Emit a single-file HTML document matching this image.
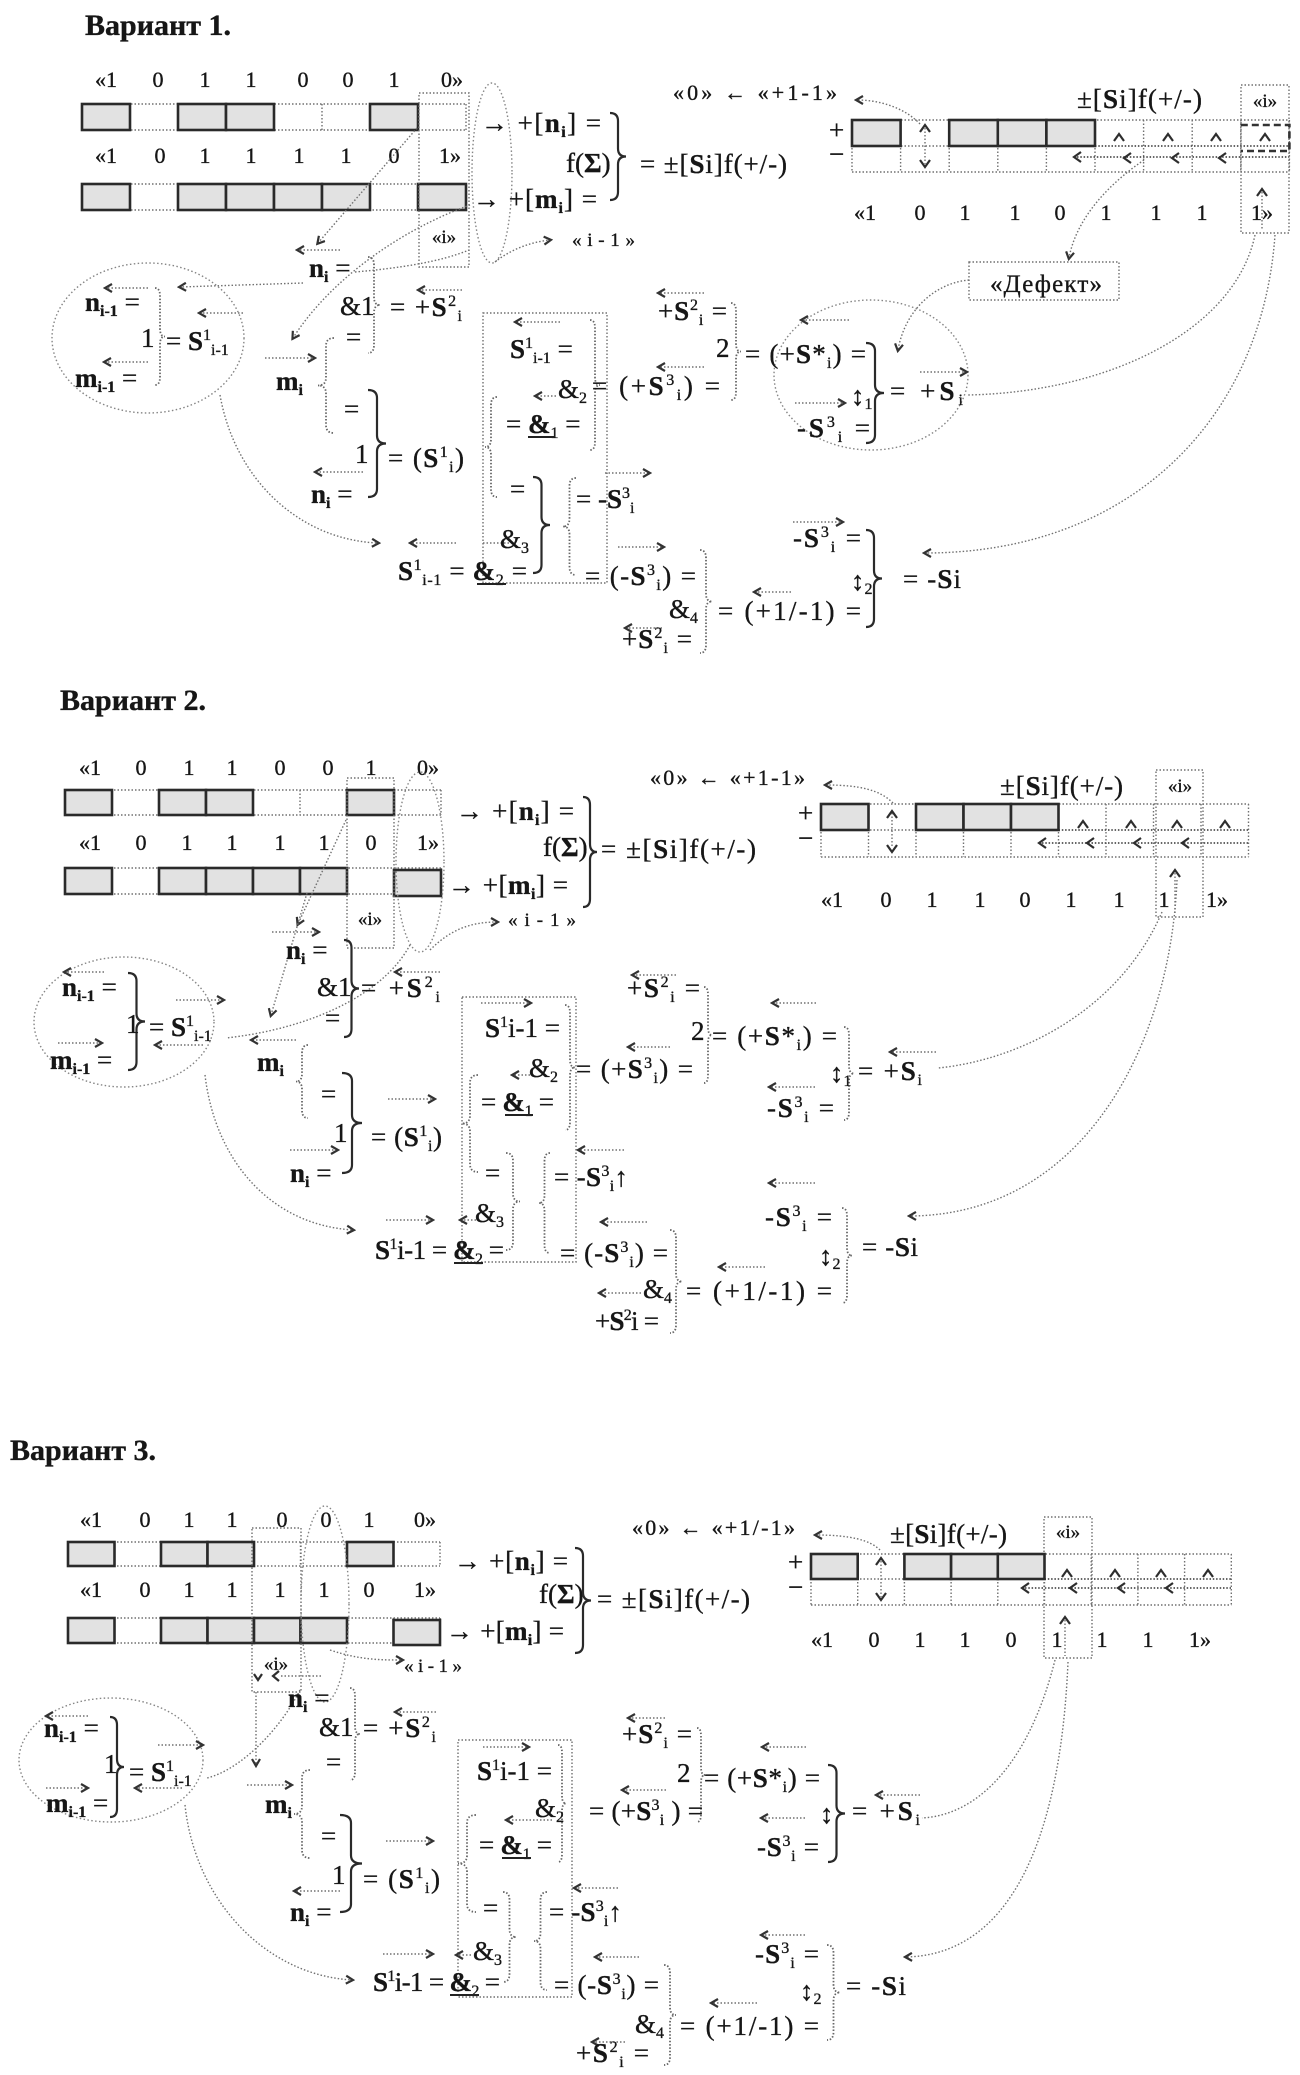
<!DOCTYPE html>
<html><head><meta charset="utf-8">
<style>
html,body{margin:0;padding:0;background:#fff;}
svg{display:block;}
text{font-family:"Liberation Serif","DejaVu Serif",serif;fill:#161616;stroke:#161616;stroke-width:0.35;}
.f{font-size:27px;}
.g{font-size:22px;}
.k{font-size:19px;}
.h{font-size:30px;font-weight:bold;}
.dk{font-size:25px;}
.b{font-weight:bold;}
.s{font-size:16px;}
.d{fill:none;stroke:#707070;stroke-width:1.4;stroke-dasharray:1.5 2;}
.dd{fill:none;stroke:#505050;stroke-width:1.8;stroke-dasharray:1.5 1.8;}
.el{fill:none;stroke:#858585;stroke-width:1.4;stroke-dasharray:1.5 2.4;}
.br{fill:none;stroke:#2a2a2a;stroke-width:2.2;}
.bd{fill:none;stroke:#666;stroke-width:1.8;stroke-dasharray:1.5 1.8;}
.bx{fill:#e2e2e2;stroke:#2a2a2a;stroke-width:2.6;}
.ch{fill:none;stroke:#2e2e2e;stroke-width:2.2;}
.ul{stroke:#222;stroke-width:2;}
</style></head>
<body>
<svg width="1300" height="2075" viewBox="0 0 1300 2075" xmlns="http://www.w3.org/2000/svg">
<defs>
<marker id="a" viewBox="0 0 10 10" refX="7" refY="5" markerWidth="10" markerHeight="10" orient="auto" markerUnits="userSpaceOnUse"><path d="M1,1 L8,5 L1,9" fill="none" stroke="#333" stroke-width="2.2"/></marker>
</defs>
<rect width="1300" height="2075" fill="#fff"/>

<!-- ================= VARIANT 1 ================= -->
<text x="85" y="35" class="h">Вариант 1.</text>

<text class="g" y="87" text-anchor="middle"><tspan x="106">«1</tspan><tspan x="158">0</tspan><tspan x="205">1</tspan><tspan x="251">1</tspan><tspan x="303">0</tspan><tspan x="348">0</tspan><tspan x="394">1</tspan><tspan x="452">0»</tspan></text>
<text class="g" y="163" text-anchor="middle"><tspan x="106">«1</tspan><tspan x="160">0</tspan><tspan x="205">1</tspan><tspan x="251">1</tspan><tspan x="299">1</tspan><tspan x="346">1</tspan><tspan x="394">0</tspan><tspan x="450">1»</tspan></text>

<path class="d" d="M82 104H466M82 130H466M82 184H466M82 210H466M82 104V130M130 104V130M178 104V130M226 104V130M274 104V130M322 104V130M370 104V130M418 104V130M466 104V130M82 184V210M130 184V210M178 184V210M226 184V210M274 184V210M322 184V210M370 184V210M418 184V210M466 184V210"/>
<rect class="bx" x="82" y="104" width="48" height="26"/>
<rect class="bx" x="178" y="104" width="48" height="26"/>
<rect class="bx" x="226" y="104" width="48" height="26"/>
<rect class="bx" x="370" y="104" width="48" height="26"/>
<rect class="bx" x="82" y="184" width="48" height="26"/>
<rect class="bx" x="178" y="184" width="48" height="26"/>
<rect class="bx" x="226" y="184" width="48" height="26"/>
<rect class="bx" x="274" y="184" width="48" height="26"/>
<rect class="bx" x="322" y="184" width="48" height="26"/>
<rect class="bx" x="418" y="184" width="48" height="26"/>

<rect class="d" x="419" y="93" width="50" height="174"/>
<text x="444" y="243" class="k" text-anchor="middle">«i»</text>
<ellipse class="el" cx="492" cy="173" rx="20" ry="90"/>

<text x="481" y="132" class="f" textLength="120">→ +[<tspan class="b">n</tspan><tspan class="s b" dy="5">i</tspan><tspan dy="-5">] =</tspan></text>
<text x="566" y="172" class="f">f(<tspan class="b">Σ</tspan>)</text>
<text x="473" y="208" class="f" textLength="124">→ +[<tspan class="b">m</tspan><tspan class="s b" dy="5">i</tspan><tspan dy="-5">] =</tspan></text>
<path class="br" d="M610 113 Q618 113 618 121 L618 148.5 Q618 156.5 626 156.5 Q618 156.5 618 164.5 L618 192 Q618 200 610 200"/>
<text x="640" y="173" class="f" textLength="147">= ±[<tspan class="b">S</tspan>i]f(+/-)</text>
<path class="d" d="M495 262 C510 250 530 242 550 240" marker-end="url(#a)"/>
<text x="572" y="246" class="k" textLength="63">«i-1»</text>

<text x="673" y="100" class="g" textLength="164">«0» ← «+1-1»</text>
<path class="d" d="M920 124 C905 108 880 100 857 100" marker-end="url(#a)"/>
<text x="1077" y="108" class="f" textLength="125">±[<tspan class="b">S</tspan>i]f(+/-)</text>
<rect class="d" x="1241" y="85" width="48" height="148"/>
<text x="1265" y="107" class="k" text-anchor="middle">«i»</text>
<text x="829" y="139" class="f">+</text>
<text x="829" y="163" class="f">−</text>
<path class="d" d="M852 120H1289.4M852 172H1289.4M852 146H1095M852 120V172M900.6 120V172M949.2 120V172M997.8 120V172M1046.4 120V172M1095 120V172M1143.6 120V172M1192.2 120V172M1240.8 120V172M1289.4 120V172"/>
<path class="dd" d="M1095 146H1289.4M1077 157H1289"/>
<rect class="bx" x="852" y="120" width="48.6" height="26"/>
<rect class="bx" x="949.2" y="120" width="48.6" height="26"/>
<rect class="bx" x="997.8" y="120" width="48.6" height="26"/>
<rect class="bx" x="1046.4" y="120" width="48.6" height="26"/>
<path d="M1240.8 125H1289.4V151H1240.8" fill="none" stroke="#333" stroke-width="2.6" stroke-dasharray="7 4"/>
<path class="d" d="M925 128V164M1262 192V230"/>
<path class="ch" d="M920 132L925 125L930 132M920 160L925 167L930 160M1114 141L1119 134L1124 141M1163 141L1168 134L1173 141M1211 141L1216 134L1221 141M1260 141L1265 134L1270 141M1257 196L1262 189L1267 196M1081 152L1074 157L1081 162M1131 153L1124 158L1131 163M1179 153L1172 158L1179 163M1226 153L1219 158L1226 163"/>
<text class="g" y="220" text-anchor="middle"><tspan x="865">«1</tspan><tspan x="920">0</tspan><tspan x="965">1</tspan><tspan x="1015">1</tspan><tspan x="1060">0</tspan><tspan x="1106">1</tspan><tspan x="1156">1</tspan><tspan x="1202">1</tspan><tspan x="1262">1»</tspan></text>

<path class="d" d="M1144 160 C1100 190 1075 225 1069 258" marker-end="url(#a)"/>
<rect class="d" x="969" y="262" width="150" height="38"/>
<text x="990" y="292" class="dk" textLength="112">«Дефект»</text>
<path class="d" d="M969 280 C935 283 905 310 898 350" marker-end="url(#a)"/>

<!-- V1 connectors -->
<path class="d" d="M417 128 L318 243" marker-end="url(#a)"/>
<path class="d" d="M340 250 L298 250" marker-end="url(#a)"/>
<path class="d" d="M470 205 C400 230 330 280 293 338" marker-end="url(#a)"/>
<path class="d" d="M303 283 L180 287" marker-end="url(#a)"/>
<path class="d" d="M355 272 C400 268 440 262 469 250"/>
<ellipse class="el" cx="148" cy="338" rx="96" ry="75"/>
<path class="d" d="M220 395 C235 480 300 540 378 543" marker-end="url(#a)"/>
<path class="d" d="M1255 235 C1235 330 1110 392 968 395"/>
<path class="d" d="M1275 235 C1262 420 1130 553 925 553" marker-end="url(#a)"/>
<ellipse class="el" cx="871" cy="375" rx="97" ry="75"/>
<rect class="d" x="483" y="313" width="124" height="270"/>

<path class="d" marker-end="url(#a)" d="M148 288 L106 288"/>
<path class="d" marker-end="url(#a)" d="M243 313 L200 313"/>
<path class="d" marker-end="url(#a)" d="M148 362 L105 362"/>
<path class="d" marker-end="url(#a)" d="M265 358 L314 358"/>
<path class="d" marker-end="url(#a)" d="M462 290 L419 290"/>
<path class="d" marker-end="url(#a)" d="M363 472 L316 472"/>
<path class="d" marker-end="url(#a)" d="M560 322 L516 322"/>
<path class="d" marker-end="url(#a)" d="M556 396 L536 396"/>
<path class="d" d="M483 543 L510 543"/>
<path class="d" marker-end="url(#a)" d="M456 543 L411 543"/>
<path class="d" marker-end="url(#a)" d="M605 473 L649 473"/>
<path class="d" marker-end="url(#a)" d="M618 547 L663 547"/>
<path class="d" marker-end="url(#a)" d="M791 592 L755 592"/>
<path class="d" marker-end="url(#a)" d="M662 628 L626 628"/>
<path class="d" marker-end="url(#a)" d="M704 293 L659 293"/>
<path class="d" marker-end="url(#a)" d="M704 367 L659 367"/>
<path class="d" marker-end="url(#a)" d="M849 320 L802 320"/>
<path class="d" marker-end="url(#a)" d="M920 372 L966 372"/>
<path class="d" marker-end="url(#a)" d="M795 403 L844 403"/>
<path class="d" marker-end="url(#a)" d="M793 522 L842 522"/>

<!-- V1 braces -->
<path class="bd" d="M368 257 Q374 257 374 265 L374 297 Q374 305 380 305 Q374 305 374 313 L374 345 Q374 353 368 353"/>
<path class="bd" d="M155 288 Q160 288 160 296 L160 328.5 Q160 336.5 165 336.5 Q160 336.5 160 344.5 L160 377 Q160 385 155 385"/>
<path class="bd" d="M334 338 Q326 338 326 346 L326 377.5 Q326 385.5 318 385.5 Q326 385.5 326 393.5 L326 425 Q326 433 334 433"/>
<path class="br" d="M368 390 Q377 390 377 398 L377 435.5 Q377 443.5 386 443.5 Q377 443.5 377 451.5 L377 489 Q377 497 368 497"/>
<path class="bd" d="M590 320 Q595 320 595 328 L595 377 Q595 385 600 385 Q595 385 595 393 L595 442 Q595 450 590 450"/>
<path class="bd" d="M497 397 Q491 397 491 405 L491 439 Q491 447 485 447 Q491 447 491 455 L491 489 Q491 497 497 497"/>
<path class="br" d="M533 477 Q541.5 477 541.5 485 L541.5 517 Q541.5 525 550 525 Q541.5 525 541.5 533 L541.5 565 Q541.5 573 533 573"/>
<path class="bd" d="M576 478 Q569.5 478 569.5 486 L569.5 518.5 Q569.5 526.5 563 526.5 Q569.5 526.5 569.5 534.5 L569.5 567 Q569.5 575 576 575"/>
<path class="bd" d="M731 303 Q736 303 736 311 L736 343.5 Q736 351.5 741 351.5 Q736 351.5 736 359.5 L736 392 Q736 400 731 400"/>
<path class="bd" d="M700 550 Q706 550 706 558 L706 593.5 Q706 601.5 712 601.5 Q706 601.5 706 609.5 L706 645 Q706 653 700 653"/>
<path class="br" d="M866 343 Q875 343 875 351 L875 385 Q875 393 884 393 Q875 393 875 401 L875 435 Q875 443 866 443"/>
<path class="br" d="M866 530 Q874 530 874 538 L874 570.5 Q874 578.5 882 578.5 Q874 578.5 874 586.5 L874 619 Q874 627 866 627"/>

<!-- V1 formula texts -->
<text x="309" y="277" class="f"><tspan class="b">n</tspan><tspan class="s b" dy="5">i</tspan><tspan dy="-5"> =</tspan></text>
<text x="340" y="315" class="f">&amp;1</text>
<text x="390" y="316" class="f" textLength="72">= +<tspan class="b">S</tspan><tspan class="s" dy="-10">2</tspan><tspan class="s" dy="15">i</tspan></text>
<text x="346" y="346" class="f">=</text>
<text x="85" y="311" class="f"><tspan class="b">n</tspan><tspan class="s b" dy="5">i-1</tspan><tspan dy="-5"> =</tspan></text>
<text x="141" y="347" class="f">1</text>
<text x="166" y="350" class="f">= <tspan class="b">S</tspan><tspan class="s" dy="-10">1</tspan><tspan class="s" dy="15">i-1</tspan></text>
<text x="75" y="387" class="f"><tspan class="b">m</tspan><tspan class="s b" dy="5">i-1</tspan><tspan dy="-5"> =</tspan></text>
<text x="276" y="390" class="f"><tspan class="b">m</tspan><tspan class="s b" dy="5">i</tspan></text>
<text x="344" y="418" class="f">=</text>
<text x="355" y="463" class="f">1</text>
<text x="388" y="467" class="f" textLength="76">= (<tspan class="b">S</tspan><tspan class="s" dy="-10">1</tspan><tspan class="s" dy="15">i</tspan><tspan dy="-5">)</tspan></text>
<text x="311" y="503" class="f"><tspan class="b">n</tspan><tspan class="s b" dy="5">i</tspan><tspan dy="-5"> =</tspan></text>
<text x="510" y="358" class="f"><tspan class="b">S</tspan><tspan class="s" dy="-10">1</tspan><tspan class="s" dy="15">i-1</tspan><tspan dy="-5"> =</tspan></text>
<text x="558" y="398" class="f">&amp;<tspan class="s" dy="5">2</tspan></text>
<text x="506" y="433" class="f">= <tspan class="b">&amp;</tspan><tspan class="s" dy="5">1</tspan><tspan dy="-5"> =</tspan></text>
<line class="ul" x1="528" y1="437" x2="554" y2="437"/>
<text x="510" y="498" class="f">=</text>
<text x="500" y="548" class="f">&amp;<tspan class="s" dy="5">3</tspan></text>
<text x="398" y="580" class="f" textLength="129"><tspan class="b">S</tspan><tspan class="s" dy="-10">1</tspan><tspan class="s" dy="15">i-1</tspan><tspan dy="-5"> = </tspan><tspan class="b">&amp;</tspan><tspan class="s" dy="5">2</tspan><tspan dy="-5"> =</tspan></text>
<line class="ul" x1="477" y1="584" x2="506" y2="584"/>
<text x="576" y="508" class="f">= -<tspan class="b">S</tspan><tspan class="s" dy="-10">3</tspan><tspan class="s" dy="15">i</tspan></text>
<text x="585" y="585" class="f" textLength="111">= (-<tspan class="b">S</tspan><tspan class="s" dy="-10">3</tspan><tspan class="s" dy="15">i</tspan><tspan dy="-5">) =</tspan></text>
<text x="669" y="618" class="f">&amp;<tspan class="s" dy="5">4</tspan></text>
<text x="718" y="620" class="f" textLength="143">= (+1/-1) =</text>
<text x="622" y="648" class="f" textLength="70">+<tspan class="b">S</tspan><tspan class="s" dy="-10">2</tspan><tspan class="s" dy="15">i</tspan><tspan dy="-5"> =</tspan></text>
<text x="658" y="320" class="f" textLength="69">+<tspan class="b">S</tspan><tspan class="s" dy="-10">2</tspan><tspan class="s" dy="15">i</tspan><tspan dy="-5"> =</tspan></text>
<text x="716" y="357" class="f">2</text>
<text x="745" y="363" class="f" textLength="121">= (+<tspan class="b">S</tspan>*<tspan class="s" dy="5">i</tspan><tspan dy="-5">) =</tspan></text>
<text x="592" y="395" class="f" textLength="128">= (+<tspan class="b">S</tspan><tspan class="s" dy="-10">3</tspan><tspan class="s" dy="15">i</tspan><tspan dy="-5">) =</tspan></text>
<text x="851" y="405" class="f">↕<tspan class="s" dy="4">1</tspan></text>
<text x="890" y="400" class="f" textLength="73">= +<tspan class="b">S</tspan><tspan class="s" dy="5">i</tspan></text>
<text x="797" y="437" class="f" textLength="73">-<tspan class="b">S</tspan><tspan class="s" dy="-10">3</tspan><tspan class="s" dy="15">i</tspan><tspan dy="-5"> =</tspan></text>
<text x="793" y="547" class="f" textLength="68">-<tspan class="b">S</tspan><tspan class="s" dy="-10">3</tspan><tspan class="s" dy="15">i</tspan><tspan dy="-5"> =</tspan></text>
<text x="851" y="590" class="f">↕<tspan class="s" dy="4">2</tspan></text>
<text x="903" y="588" class="f" textLength="58">= -<tspan class="b">S</tspan>i</text>

<!-- ================= VARIANT 2 ================= -->
<text x="60" y="710" class="h">Вариант 2.</text>

<text class="g" y="775" text-anchor="middle"><tspan x="90">«1</tspan><tspan x="141">0</tspan><tspan x="189">1</tspan><tspan x="232">1</tspan><tspan x="280">0</tspan><tspan x="328">0</tspan><tspan x="371">1</tspan><tspan x="428">0»</tspan></text>
<text class="g" y="850" text-anchor="middle"><tspan x="90">«1</tspan><tspan x="141">0</tspan><tspan x="187">1</tspan><tspan x="232">1</tspan><tspan x="280">1</tspan><tspan x="324">1</tspan><tspan x="371">0</tspan><tspan x="428">1»</tspan></text>

<path class="d" d="M65 790H441M65 815H441M65 868H441M65 894H441M65 790V815M112 790V815M159 790V815M206 790V815M253 790V815M300 790V815M347 790V815M394 790V815M441 790V815M65 868V894M112 868V894M159 868V894M206 868V894M253 868V894M300 868V894M347 868V894M394 868V894M441 868V894"/>
<rect class="bx" x="65" y="790" width="47" height="25"/>
<rect class="bx" x="159" y="790" width="47" height="25"/>
<rect class="bx" x="206" y="790" width="47" height="25"/>
<rect class="bx" x="347" y="790" width="47" height="25"/>
<rect class="bx" x="65" y="868" width="47" height="26"/>
<rect class="bx" x="159" y="868" width="47" height="26"/>
<rect class="bx" x="206" y="868" width="47" height="26"/>
<rect class="bx" x="253" y="868" width="47" height="26"/>
<rect class="bx" x="300" y="868" width="47" height="26"/>
<rect class="bx" x="394" y="870" width="47" height="26"/>

<rect class="d" x="347" y="778" width="47" height="170"/>
<text x="370" y="925" class="k" text-anchor="middle">«i»</text>
<ellipse class="el" cx="420" cy="862" rx="24" ry="90"/>

<text x="456" y="820" class="f" textLength="118">→ +[<tspan class="b">n</tspan><tspan class="s b" dy="5">i</tspan><tspan dy="-5">] =</tspan></text>
<text x="543" y="856" class="f">f(<tspan class="b">Σ</tspan>)</text>
<text x="448" y="894" class="f" textLength="120">→ +[<tspan class="b">m</tspan><tspan class="s b" dy="5">i</tspan><tspan dy="-5">] =</tspan></text>
<path class="br" d="M583 797 Q590 797 590 805 L590 844 Q590 852 597 852 Q590 852 590 860 L590 899 Q590 907 583 907"/>
<text x="601" y="858" class="f" textLength="155">= ±[<tspan class="b">S</tspan>i]f(+/-)</text>
<path class="d" d="M430 950 C450 930 470 922 497 922" marker-end="url(#a)"/>
<text x="508" y="926" class="k" textLength="68">«i-1»</text>

<text x="650" y="785" class="g" textLength="155">«0» ← «+1-1»</text>
<path class="d" d="M893 803 C880 790 860 785 826 785" marker-end="url(#a)"/>
<text x="1000" y="795" class="f" textLength="123">±[<tspan class="b">S</tspan>i]f(+/-)</text>
<rect class="d" x="1156" y="770" width="47" height="147"/>
<text x="1180" y="792" class="k" text-anchor="middle">«i»</text>
<text x="798" y="822" class="f">+</text>
<text x="798" y="847" class="f">−</text>
<path class="d" d="M821 804H1248.5M821 857H1248.5M821 830H1058.5M821 804V857M868.5 804V857M916 804V857M963.5 804V857M1011 804V857M1058.5 804V857M1106 804V857M1153.5 804V857M1201 804V857M1248.5 804V857"/>
<path class="dd" d="M1058.5 830H1248.5M1042 843H1248"/>
<rect class="bx" x="821" y="804" width="47.5" height="26"/>
<rect class="bx" x="916" y="804" width="47.5" height="26"/>
<rect class="bx" x="963.5" y="804" width="47.5" height="26"/>
<rect class="bx" x="1011" y="804" width="47.5" height="26"/>
<path class="d" d="M892 813V848M1175 873V915"/>
<path class="ch" d="M887 818L892 811L897 818M887 845L892 852L897 845M1078 828L1083 821L1088 828M1126 828L1131 821L1136 828M1172 828L1177 821L1182 828M1220 828L1225 821L1230 828M1170 877L1175 870L1180 877M1046 838L1039 843L1046 848M1094 838L1087 843L1094 848M1141 838L1134 843L1141 848M1189 838L1182 843L1189 848"/>
<text class="g" y="907" text-anchor="middle"><tspan x="832">«1</tspan><tspan x="886">0</tspan><tspan x="932">1</tspan><tspan x="980">1</tspan><tspan x="1025">0</tspan><tspan x="1071">1</tspan><tspan x="1119">1</tspan><tspan x="1164">1</tspan><tspan x="1217">1»</tspan></text>

<!-- V2 connectors -->
<path class="d" d="M1162 912 C1120 1010 1020 1060 938 1068"/>
<path class="d" d="M1177 880 C1170 1050 1080 1215 910 1216" marker-end="url(#a)"/>
<path class="d" d="M346 820 L298 924" marker-end="url(#a)"/>
<path class="d" d="M410 945 C380 1000 300 1030 226 1038"/>
<path class="d" d="M307 893 L271 1015" marker-end="url(#a)"/>
<ellipse class="el" cx="124" cy="1022" rx="90" ry="65"/>
<path class="d" d="M205 1075 C215 1160 270 1225 353 1230" marker-end="url(#a)"/>
<rect class="d" x="462" y="997" width="114" height="265"/>
<path class="d" marker-end="url(#a)" d="M272 932 L318 932"/>
<path class="d" marker-end="url(#a)" d="M104 972 L65 972"/>
<path class="d" marker-end="url(#a)" d="M176 1000 L223 1000"/>
<path class="d" marker-end="url(#a)" d="M203 1045 L156 1045"/>
<path class="d" marker-end="url(#a)" d="M58 1043 L101 1043"/>
<path class="d" marker-end="url(#a)" d="M296 1040 L252 1040"/>
<path class="d" marker-end="url(#a)" d="M440 972 L396 972"/>
<path class="d" marker-end="url(#a)" d="M388 1099 L434 1099"/>
<path class="d" marker-end="url(#a)" d="M290 1150 L337 1150"/>
<path class="d" marker-end="url(#a)" d="M481 1003 L530 1003"/>
<path class="d" marker-end="url(#a)" d="M530 1075 L513 1075"/>
<path class="d" marker-end="url(#a)" d="M670 1047 L629 1047"/>
<path class="d" marker-end="url(#a)" d="M624 1150 L579 1150"/>
<path class="d" marker-end="url(#a)" d="M386 1220 L432 1220"/>
<path class="d" marker-end="url(#a)" d="M476 1220 L461 1220"/>
<path class="d" marker-end="url(#a)" d="M647 1222 L602 1222"/>
<path class="d" marker-end="url(#a)" d="M641 1293 L600 1293"/>
<path class="d" marker-end="url(#a)" d="M765 1267 L720 1267"/>
<path class="d" marker-end="url(#a)" d="M676 975 L633 975"/>
<path class="d" marker-end="url(#a)" d="M816 1003 L773 1003"/>
<path class="d" marker-end="url(#a)" d="M936 1052 L891 1052"/>
<path class="d" marker-end="url(#a)" d="M815 1087 L770 1087"/>
<path class="d" marker-end="url(#a)" d="M815 1183 L770 1183"/>

<!-- V2 braces -->
<path class="br" d="M344 940 Q351.5 940 351.5 948 L351.5 980.5 Q351.5 988.5 359 988.5 Q351.5 988.5 351.5 996.5 L351.5 1029 Q351.5 1037 344 1037"/>
<path class="br" d="M128 973 Q136.5 973 136.5 981 L136.5 1013.5 Q136.5 1021.5 145 1021.5 Q136.5 1021.5 136.5 1029.5 L136.5 1062 Q136.5 1070 128 1070"/>
<path class="br" d="M342 1073 Q352 1073 352 1081 L352 1115 Q352 1123 362 1123 Q352 1123 352 1131 L352 1165 Q352 1173 342 1173"/>
<path class="bd" d="M308 1045 Q302 1045 302 1053 L302 1073.5 Q302 1081.5 296 1081.5 Q302 1081.5 302 1089.5 L302 1110 Q302 1118 308 1118"/>
<path class="bd" d="M565 1005 Q570 1005 570 1013 L570 1059.5 Q570 1067.5 575 1067.5 Q570 1067.5 570 1075.5 L570 1122 Q570 1130 565 1130"/>
<path class="bd" d="M478 1075 Q470 1075 470 1083 L470 1115.5 Q470 1123.5 462 1123.5 Q470 1123.5 470 1131.5 L470 1164 Q470 1172 478 1172"/>
<path class="bd" d="M506 1153 Q513 1153 513 1161 L513 1193.5 Q513 1201.5 520 1201.5 Q513 1201.5 513 1209.5 L513 1242 Q513 1250 506 1250"/>
<path class="bd" d="M550 1153 Q544.5 1153 544.5 1161 L544.5 1195 Q544.5 1203 539 1203 Q544.5 1203 544.5 1211 L544.5 1245 Q544.5 1253 550 1253"/>
<path class="bd" d="M670 1230 Q676 1230 676 1238 L676 1273.5 Q676 1281.5 682 1281.5 Q676 1281.5 676 1289.5 L676 1325 Q676 1333 670 1333"/>
<path class="bd" d="M704 987 Q708 987 708 995 L708 1027 Q708 1035 712 1035 Q708 1035 708 1043 L708 1075 Q708 1083 704 1083"/>
<path class="bd" d="M844 1027 Q849 1027 849 1035 L849 1065.5 Q849 1073.5 854 1073.5 Q849 1073.5 849 1081.5 L849 1112 Q849 1120 844 1120"/>
<path class="bd" d="M842 1208 Q847 1208 847 1216 L847 1247.5 Q847 1255.5 852 1255.5 Q847 1255.5 847 1263.5 L847 1295 Q847 1303 842 1303"/>

<!-- V2 texts -->
<text x="286" y="959" class="f"><tspan class="b">n</tspan><tspan class="s b" dy="5">i</tspan><tspan dy="-5"> =</tspan></text>
<text x="317" y="996" class="f">&amp;1</text>
<text x="361" y="997" class="f" textLength="79">= +<tspan class="b">S</tspan><tspan class="s" dy="-10">2</tspan><tspan class="s" dy="15">i</tspan></text>
<text x="325" y="1027" class="f">=</text>
<text x="62" y="996" class="f"><tspan class="b">n</tspan><tspan class="s b" dy="5">i-1</tspan><tspan dy="-5"> =</tspan></text>
<text x="126" y="1033" class="f">1</text>
<text x="149" y="1036" class="f">= <tspan class="b">S</tspan><tspan class="s" dy="-10">1</tspan><tspan class="s" dy="15">i-1</tspan></text>
<text x="50" y="1069" class="f"><tspan class="b">m</tspan><tspan class="s b" dy="5">i-1</tspan><tspan dy="-5"> =</tspan></text>
<text x="257" y="1071" class="f"><tspan class="b">m</tspan><tspan class="s b" dy="5">i</tspan></text>
<text x="321" y="1103" class="f">=</text>
<text x="334" y="1142" class="f">1</text>
<text x="371" y="1146" class="f" textLength="71">= (<tspan class="b">S</tspan><tspan class="s" dy="-10">1</tspan><tspan class="s" dy="15">i</tspan><tspan dy="-5">)</tspan></text>
<text x="290" y="1182" class="f"><tspan class="b">n</tspan><tspan class="s b" dy="5">i</tspan><tspan dy="-5"> =</tspan></text>
<text x="485" y="1037" class="f"><tspan class="b">S</tspan><tspan class="s" dy="-10">1</tspan><tspan dy="10">i-1 =</tspan></text>
<text x="529" y="1077" class="f">&amp;<tspan class="s" dy="5">2</tspan></text>
<text x="576" y="1078" class="f" textLength="117">= (+<tspan class="b">S</tspan><tspan class="s" dy="-10">3</tspan><tspan class="s" dy="15">i</tspan><tspan dy="-5">) =</tspan></text>
<text x="481" y="1111" class="f" textLength="73">= <tspan class="b">&amp;</tspan><tspan class="s" dy="5">1</tspan><tspan dy="-5"> =</tspan></text>
<line class="ul" x1="505" y1="1115" x2="533" y2="1115"/>
<text x="485" y="1182" class="f">=</text>
<text x="554" y="1186" class="f" textLength="74">= -<tspan class="b">S</tspan><tspan class="s" dy="-10">3</tspan><tspan class="s" dy="15">i</tspan><tspan dy="-5">↑</tspan></text>
<text x="475" y="1222" class="f">&amp;<tspan class="s" dy="5">3</tspan></text>
<text x="375" y="1259" class="f" textLength="129"><tspan class="b">S</tspan><tspan class="s" dy="-10">1</tspan><tspan dy="10">i-1 = </tspan><tspan class="b">&amp;</tspan><tspan class="s" dy="5">2</tspan><tspan dy="-5"> =</tspan></text>
<line class="ul" x1="454" y1="1263" x2="483" y2="1263"/>
<text x="560" y="1262" class="f" textLength="108">= (-<tspan class="b">S</tspan><tspan class="s" dy="-10">3</tspan><tspan class="s" dy="15">i</tspan><tspan dy="-5">) =</tspan></text>
<text x="643" y="1298" class="f">&amp;<tspan class="s" dy="5">4</tspan></text>
<text x="686" y="1300" class="f" textLength="146">= (+1/-1) =</text>
<text x="595" y="1330" class="f" textLength="64">+<tspan class="b">S</tspan><tspan class="s" dy="-10">2</tspan><tspan dy="10">i =</tspan></text>
<text x="627" y="997" class="f" textLength="73">+<tspan class="b">S</tspan><tspan class="s" dy="-10">2</tspan><tspan class="s" dy="15">i</tspan><tspan dy="-5"> =</tspan></text>
<text x="691" y="1040" class="f">2</text>
<text x="712" y="1045" class="f" textLength="125">= (+<tspan class="b">S</tspan>*<tspan class="s" dy="5">i</tspan><tspan dy="-5">) =</tspan></text>
<text x="830" y="1082" class="f">↕<tspan class="s" dy="4">1</tspan></text>
<text x="858" y="1080" class="f" textLength="64">= +<tspan class="b">S</tspan><tspan class="s" dy="5">i</tspan></text>
<text x="767" y="1117" class="f" textLength="67">-<tspan class="b">S</tspan><tspan class="s" dy="-10">3</tspan><tspan class="s" dy="15">i</tspan><tspan dy="-5"> =</tspan></text>
<text x="765" y="1226" class="f" textLength="67">-<tspan class="b">S</tspan><tspan class="s" dy="-10">3</tspan><tspan class="s" dy="15">i</tspan><tspan dy="-5"> =</tspan></text>
<text x="819" y="1265" class="f">↕<tspan class="s" dy="4">2</tspan></text>
<text x="862" y="1256" class="f" textLength="56">= -<tspan class="b">S</tspan>i</text>

<!-- ================= VARIANT 3 ================= -->
<text x="10" y="1460" class="h">Вариант 3.</text>

<text class="g" y="1527" text-anchor="middle"><tspan x="91">«1</tspan><tspan x="145">0</tspan><tspan x="189">1</tspan><tspan x="232">1</tspan><tspan x="282">0</tspan><tspan x="326">0</tspan><tspan x="369">1</tspan><tspan x="425">0»</tspan></text>
<text class="g" y="1597" text-anchor="middle"><tspan x="91">«1</tspan><tspan x="145">0</tspan><tspan x="189">1</tspan><tspan x="232">1</tspan><tspan x="280">1</tspan><tspan x="324">1</tspan><tspan x="369">0</tspan><tspan x="425">1»</tspan></text>

<path class="d" d="M68 1542H440M68 1566H440M68 1618H440M68 1643H440M68 1542V1566M114.5 1542V1566M161 1542V1566M207.5 1542V1566M254 1542V1566M300.5 1542V1566M347 1542V1566M393.5 1542V1566M440 1542V1566M68 1618V1643M114.5 1618V1643M161 1618V1643M207.5 1618V1643M254 1618V1643M300.5 1618V1643M347 1618V1643M393.5 1618V1643M440 1618V1643"/>
<rect class="bx" x="68" y="1542" width="46.5" height="24"/>
<rect class="bx" x="161" y="1542" width="46.5" height="24"/>
<rect class="bx" x="207.5" y="1542" width="46.5" height="24"/>
<rect class="bx" x="347" y="1542" width="46.5" height="24"/>
<rect class="bx" x="68" y="1618" width="46.5" height="25"/>
<rect class="bx" x="161" y="1618" width="46.5" height="25"/>
<rect class="bx" x="207.5" y="1618" width="46.5" height="25"/>
<rect class="bx" x="254" y="1618" width="46.5" height="25"/>
<rect class="bx" x="300.5" y="1618" width="46.5" height="25"/>
<rect class="bx" x="393.5" y="1620" width="46.5" height="25"/>

<rect class="d" x="252" y="1528" width="49" height="164"/>
<text x="276" y="1670" class="k" text-anchor="middle">«i»</text>
<ellipse class="el" cx="325" cy="1604" rx="24" ry="98"/>

<text x="454" y="1570" class="f" textLength="114">→ +[<tspan class="b">n</tspan><tspan class="s b" dy="5">i</tspan><tspan dy="-5">] =</tspan></text>
<text x="539" y="1603" class="f">f(<tspan class="b">Σ</tspan>)</text>
<text x="446" y="1640" class="f" textLength="118">→ +[<tspan class="b">m</tspan><tspan class="s b" dy="5">i</tspan><tspan dy="-5">] =</tspan></text>
<path class="br" d="M575 1548 Q583 1548 583 1556 L583 1592.5 Q583 1600.5 591 1600.5 Q583 1600.5 583 1608.5 L583 1645 Q583 1653 575 1653"/>
<text x="597" y="1608" class="f" textLength="153">= ±[<tspan class="b">S</tspan>i]f(+/-)</text>
<path class="d" d="M330 1650 C360 1660 380 1660 402 1660" marker-end="url(#a)"/>
<text x="404" y="1672" class="k" textLength="58">«i-1»</text>

<text x="632" y="1535" class="g" textLength="163">«0» ← «+1/-1»</text>
<path class="d" d="M880 1550 C870 1540 850 1535 816 1535" marker-end="url(#a)"/>
<text x="890" y="1543" class="f" textLength="117">±[<tspan class="b">S</tspan>i]f(+/-)</text>
<rect class="d" x="1044" y="1517" width="48" height="141"/>
<text x="1068" y="1538" class="k" text-anchor="middle">«i»</text>
<text x="788" y="1571" class="f">+</text>
<text x="788" y="1596" class="f">−</text>
<path class="d" d="M811 1554H1231.3M811 1605H1231.3M811 1579H1044.5M811 1554V1605M857.7 1554V1605M904.4 1554V1605M951.1 1554V1605M997.8 1554V1605M1044.5 1554V1605M1091.2 1554V1605M1137.9 1554V1605M1184.6 1554V1605M1231.3 1554V1605"/>
<path class="dd" d="M1044.5 1579H1231.3M1025 1588H1231"/>
<rect class="bx" x="811" y="1554" width="46.7" height="25"/>
<rect class="bx" x="904.4" y="1554" width="46.7" height="25"/>
<rect class="bx" x="951.1" y="1554" width="46.7" height="25"/>
<rect class="bx" x="997.8" y="1554" width="46.7" height="25"/>
<path class="d" d="M881 1561V1597M1065 1620V1656"/>
<path class="ch" d="M876 1565L881 1558L886 1565M876 1593L881 1600L886 1593M1062 1577L1067 1570L1072 1577M1110 1577L1115 1570L1120 1577M1156 1577L1161 1570L1166 1577M1203 1577L1208 1570L1213 1577M1060 1624L1065 1617L1070 1624M1029 1583L1022 1588L1029 1593M1077 1583L1070 1588L1077 1593M1125 1583L1118 1588L1125 1593M1173 1583L1166 1588L1173 1593"/>
<text class="g" y="1647" text-anchor="middle"><tspan x="822">«1</tspan><tspan x="874">0</tspan><tspan x="920">1</tspan><tspan x="965">1</tspan><tspan x="1011">0</tspan><tspan x="1057">1</tspan><tspan x="1102">1</tspan><tspan x="1148">1</tspan><tspan x="1200">1»</tspan></text>

<!-- V3 connectors -->
<path class="d" d="M1055 1660 C1030 1760 980 1815 922 1818"/>
<path class="d" d="M1068 1662 C1060 1850 1005 1955 906 1957" marker-end="url(#a)"/>
<path class="ch" d="M254 1674L258 1680L262 1674M279 1671L273 1676L279 1681"/>
<path class="d" d="M321 1676 L280 1676"/>
<path class="d" d="M256 1692 L256 1765" marker-end="url(#a)"/>
<path class="d" d="M300 1690 C280 1730 240 1770 207 1778"/>
<ellipse class="el" cx="111" cy="1760" rx="92" ry="62"/>
<path class="d" d="M185 1805 C195 1900 265 1975 352 1980" marker-end="url(#a)"/>
<rect class="d" x="458" y="1740" width="114" height="257"/>
<path class="d" marker-end="url(#a)" d="M88 1716 L47 1716"/>
<path class="d" marker-end="url(#a)" d="M158 1745 L202 1745"/>
<path class="d" marker-end="url(#a)" d="M182 1788 L136 1788"/>
<path class="d" marker-end="url(#a)" d="M46 1788 L87 1788"/>
<path class="d" marker-end="url(#a)" d="M247 1785 L291 1785"/>
<path class="d" marker-end="url(#a)" d="M436 1712 L396 1712"/>
<path class="d" marker-end="url(#a)" d="M386 1841 L432 1841"/>
<path class="d" marker-end="url(#a)" d="M340 1891 L295 1891"/>
<path class="d" marker-end="url(#a)" d="M483 1747 L528 1747"/>
<path class="d" marker-end="url(#a)" d="M552 1820 L507 1820"/>
<path class="d" marker-end="url(#a)" d="M666 1790 L623 1790"/>
<path class="d" marker-end="url(#a)" d="M618 1888 L575 1888"/>
<path class="d" marker-end="url(#a)" d="M383 1954 L432 1954"/>
<path class="d" marker-end="url(#a)" d="M471 1955 L457 1955"/>
<path class="d" marker-end="url(#a)" d="M639 1957 L596 1957"/>
<path class="d" marker-end="url(#a)" d="M757 2003 L712 2003"/>
<path class="d" marker-end="url(#a)" d="M625 2042 L593 2042"/>
<path class="d" marker-end="url(#a)" d="M665 1718 L629 1718"/>
<path class="d" marker-end="url(#a)" d="M806 1747 L763 1747"/>
<path class="d" marker-end="url(#a)" d="M920 1795 L877 1795"/>
<path class="d" marker-end="url(#a)" d="M805 1818 L762 1818"/>
<path class="d" marker-end="url(#a)" d="M805 1935 L762 1935"/>

<!-- V3 braces -->
<path class="bd" d="M350 1688 Q355 1688 355 1696 L355 1726 Q355 1734 360 1734 Q355 1734 355 1742 L355 1772 Q355 1780 350 1780"/>
<path class="br" d="M110 1717 Q117 1717 117 1725 L117 1759 Q117 1767 124 1767 Q117 1767 117 1775 L117 1809 Q117 1817 110 1817"/>
<path class="bd" d="M310 1770 Q302 1770 302 1778 L302 1806 Q302 1814 294 1814 Q302 1814 302 1822 L302 1850 Q302 1858 310 1858"/>
<path class="br" d="M340 1815 Q351 1815 351 1823 L351 1855.5 Q351 1863.5 362 1863.5 Q351 1863.5 351 1871.5 L351 1904 Q351 1912 340 1912"/>
<path class="bd" d="M558 1745 Q562 1745 562 1753 L562 1795.5 Q562 1803.5 566 1803.5 Q562 1803.5 562 1811.5 L562 1854 Q562 1862 558 1862"/>
<path class="bd" d="M476 1815 Q467 1815 467 1823 L467 1855.5 Q467 1863.5 458 1863.5 Q467 1863.5 467 1871.5 L467 1904 Q467 1912 476 1912"/>
<path class="bd" d="M503 1892 Q509.5 1892 509.5 1900 L509.5 1929 Q509.5 1937 516 1937 Q509.5 1937 509.5 1945 L509.5 1974 Q509.5 1982 503 1982"/>
<path class="bd" d="M547 1892 Q540.5 1892 540.5 1900 L540.5 1933 Q540.5 1941 534 1941 Q540.5 1941 540.5 1949 L540.5 1982 Q540.5 1990 547 1990"/>
<path class="bd" d="M664 1965 Q670 1965 670 1973 L670 2007 Q670 2015 676 2015 Q670 2015 670 2023 L670 2057 Q670 2065 664 2065"/>
<path class="bd" d="M697 1728 Q701 1728 701 1736 L701 1767 Q701 1775 705 1775 Q701 1775 701 1783 L701 1814 Q701 1822 697 1822"/>
<path class="br" d="M828 1765 Q836.5 1765 836.5 1773 L836.5 1805.5 Q836.5 1813.5 845 1813.5 Q836.5 1813.5 836.5 1821.5 L836.5 1854 Q836.5 1862 828 1862"/>
<path class="bd" d="M827 1945 Q833.5 1945 833.5 1953 L833.5 1984.5 Q833.5 1992.5 840 1992.5 Q833.5 1992.5 833.5 2000.5 L833.5 2032 Q833.5 2040 827 2040"/>

<!-- V3 texts -->
<text x="288" y="1707" class="f"><tspan class="b">n</tspan><tspan class="s b" dy="5">i</tspan><tspan dy="-5"> =</tspan></text>
<text x="319" y="1736" class="f">&amp;1</text>
<text x="363" y="1737" class="f" textLength="73">= +<tspan class="b">S</tspan><tspan class="s" dy="-10">2</tspan><tspan class="s" dy="15">i</tspan></text>
<text x="326" y="1771" class="f">=</text>
<text x="44" y="1737" class="f"><tspan class="b">n</tspan><tspan class="s b" dy="5">i-1</tspan><tspan dy="-5"> =</tspan></text>
<text x="104" y="1773" class="f">1</text>
<text x="129" y="1781" class="f">= <tspan class="b">S</tspan><tspan class="s" dy="-10">1</tspan><tspan class="s" dy="15">i-1</tspan></text>
<text x="46" y="1812" class="f"><tspan class="b">m</tspan><tspan class="s b" dy="5">i-1</tspan><tspan dy="-5"> =</tspan></text>
<text x="265" y="1813" class="f"><tspan class="b">m</tspan><tspan class="s b" dy="5">i</tspan></text>
<text x="321" y="1845" class="f">=</text>
<text x="332" y="1884" class="f">1</text>
<text x="363" y="1888" class="f" textLength="77">= (<tspan class="b">S</tspan><tspan class="s" dy="-10">1</tspan><tspan class="s" dy="15">i</tspan><tspan dy="-5">)</tspan></text>
<text x="290" y="1921" class="f"><tspan class="b">n</tspan><tspan class="s b" dy="5">i</tspan><tspan dy="-5"> =</tspan></text>
<text x="477" y="1780" class="f"><tspan class="b">S</tspan><tspan class="s" dy="-10">1</tspan><tspan dy="10">i-1 =</tspan></text>
<text x="535" y="1817" class="f">&amp;<tspan class="s" dy="5">2</tspan></text>
<text x="589" y="1820" class="f" textLength="114">= (+<tspan class="b">S</tspan><tspan class="s" dy="-10">3</tspan><tspan class="s" dy="15">i</tspan><tspan dy="-5"> ) =</tspan></text>
<text x="479" y="1854" class="f" textLength="73">= <tspan class="b">&amp;</tspan><tspan class="s" dy="5">1</tspan><tspan dy="-5"> =</tspan></text>
<line class="ul" x1="502" y1="1858" x2="531" y2="1858"/>
<text x="483" y="1917" class="f">=</text>
<text x="549" y="1921" class="f" textLength="73">= -<tspan class="b">S</tspan><tspan class="s" dy="-10">3</tspan><tspan class="s" dy="15">i</tspan><tspan dy="-5">↑</tspan></text>
<text x="473" y="1960" class="f">&amp;<tspan class="s" dy="5">3</tspan></text>
<text x="373" y="1991" class="f" textLength="127"><tspan class="b">S</tspan><tspan class="s" dy="-10">1</tspan><tspan dy="10">i-1 = </tspan><tspan class="b">&amp;</tspan><tspan class="s" dy="5">2</tspan><tspan dy="-5"> =</tspan></text>
<line class="ul" x1="450" y1="1995" x2="479" y2="1995"/>
<text x="554" y="1994" class="f" textLength="105">= (-<tspan class="b">S</tspan><tspan class="s" dy="-10">3</tspan><tspan class="s" dy="15">i</tspan><tspan dy="-5">) =</tspan></text>
<text x="635" y="2033" class="f">&amp;<tspan class="s" dy="5">4</tspan></text>
<text x="680" y="2035" class="f" textLength="139">= (+1/-1) =</text>
<text x="576" y="2062" class="f" textLength="73">+<tspan class="b">S</tspan><tspan class="s" dy="-10">2</tspan><tspan class="s" dy="15">i</tspan><tspan dy="-5"> =</tspan></text>
<text x="622" y="1743" class="f" textLength="70">+<tspan class="b">S</tspan><tspan class="s" dy="-10">2</tspan><tspan class="s" dy="15">i</tspan><tspan dy="-5"> =</tspan></text>
<text x="677" y="1782" class="f">2</text>
<text x="704" y="1787" class="f" textLength="116">= (+<tspan class="b">S</tspan>*<tspan class="s" dy="5">i</tspan><tspan dy="-5">) =</tspan></text>
<text x="820" y="1823" class="f">↕</text>
<text x="852" y="1820" class="f" textLength="68">= +<tspan class="b">S</tspan><tspan class="s" dy="5">i</tspan></text>
<text x="757" y="1856" class="f" textLength="62">-<tspan class="b">S</tspan><tspan class="s" dy="-10">3</tspan><tspan class="s" dy="15">i</tspan><tspan dy="-5"> =</tspan></text>
<text x="755" y="1963" class="f" textLength="64">-<tspan class="b">S</tspan><tspan class="s" dy="-10">3</tspan><tspan class="s" dy="15">i</tspan><tspan dy="-5"> =</tspan></text>
<text x="800" y="2000" class="f">↕<tspan class="s" dy="4">2</tspan></text>
<text x="846" y="1995" class="f" textLength="60">= -<tspan class="b">S</tspan>i</text>
</svg>
</body></html>
